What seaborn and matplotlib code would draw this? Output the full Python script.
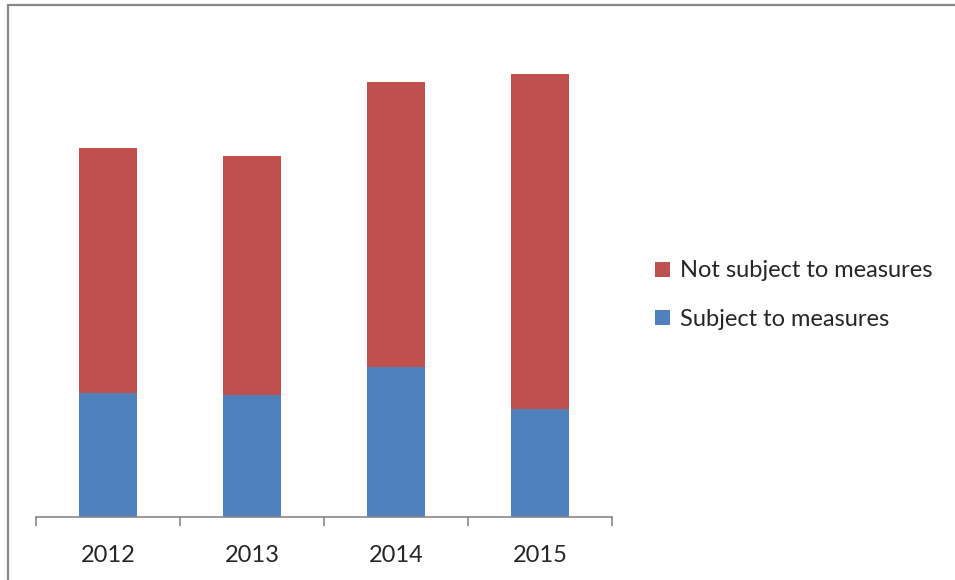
import matplotlib
matplotlib.use("Agg")
import matplotlib.pyplot as plt
import seaborn as sns
import pandas as pd
from matplotlib.patches import Patch, Rectangle

years = ["2012", "2013", "2014", "2015"]
subject = [124, 122, 150, 108]
not_subject = [245, 239, 285, 335]
series_names = ["Not subject to measures", "Subject to measures"]
colors = {"Not subject to measures": "#C0504D", "Subject to measures": "#4F81BD"}

totals = [a + b for a, b in zip(subject, not_subject)]
df = pd.DataFrame({"year": years, "subject": subject, "total": totals})

sns.set_style("white")
plt.rcParams["font.family"] = ["Lato", "DejaVu Sans"]

W, H = 955, 580
fig = plt.figure(figsize=(W / 100, H / 100), dpi=100)
ax = fig.add_axes([36 / W, 1 - 517 / H, (612 - 36) / W, (517 - 20) / H])

sns.barplot(data=df, x="year", y="total", color=colors["Not subject to measures"],
            width=0.4, saturation=1, ax=ax, edgecolor="none")
sns.barplot(data=df, x="year", y="subject", color=colors["Subject to measures"],
            width=0.4, saturation=1, ax=ax, edgecolor="none")

ax.set_xlim(-0.5, len(years) - 0.5)
ax.set_ylim(0, 497)
for s in ["top", "right", "left"]:
    ax.spines[s].set_visible(False)
ax.spines["bottom"].set_color("#868686")
ax.spines["bottom"].set_linewidth(1.2)
ax.set_yticks([])
ax.set_xlabel("")
ax.set_ylabel("")

ax.set_xticks([i - 0.5 for i in range(len(years) + 1)])
ax.set_xticklabels([])
ax.set_xticks(range(len(years)), minor=True)
ax.set_xticklabels(years, minor=True, fontsize=17)
ax.tick_params(axis="x", which="major", direction="out", length=6.5, width=1.2, color="#868686", bottom=True)
ax.tick_params(axis="x", which="minor", length=0, pad=20)

handles = [Patch(facecolor=colors[n], edgecolor="none") for n in series_names]
fig.legend(handles, series_names, loc="center left", bbox_to_anchor=(646 / W, 1 - 295 / H),
           frameon=False, fontsize=17, handlelength=0.6, handleheight=0.6,
           handletextpad=0.45, labelspacing=1.15, borderaxespad=0)

fig.patches.append(Rectangle((8 / W, -0.1), 1.2, (1 - 5 / H) + 0.1, transform=fig.transFigure,
                             fill=False, edgecolor="#888888", linewidth=1.6))

fig.savefig("out.png", dpi=100)
